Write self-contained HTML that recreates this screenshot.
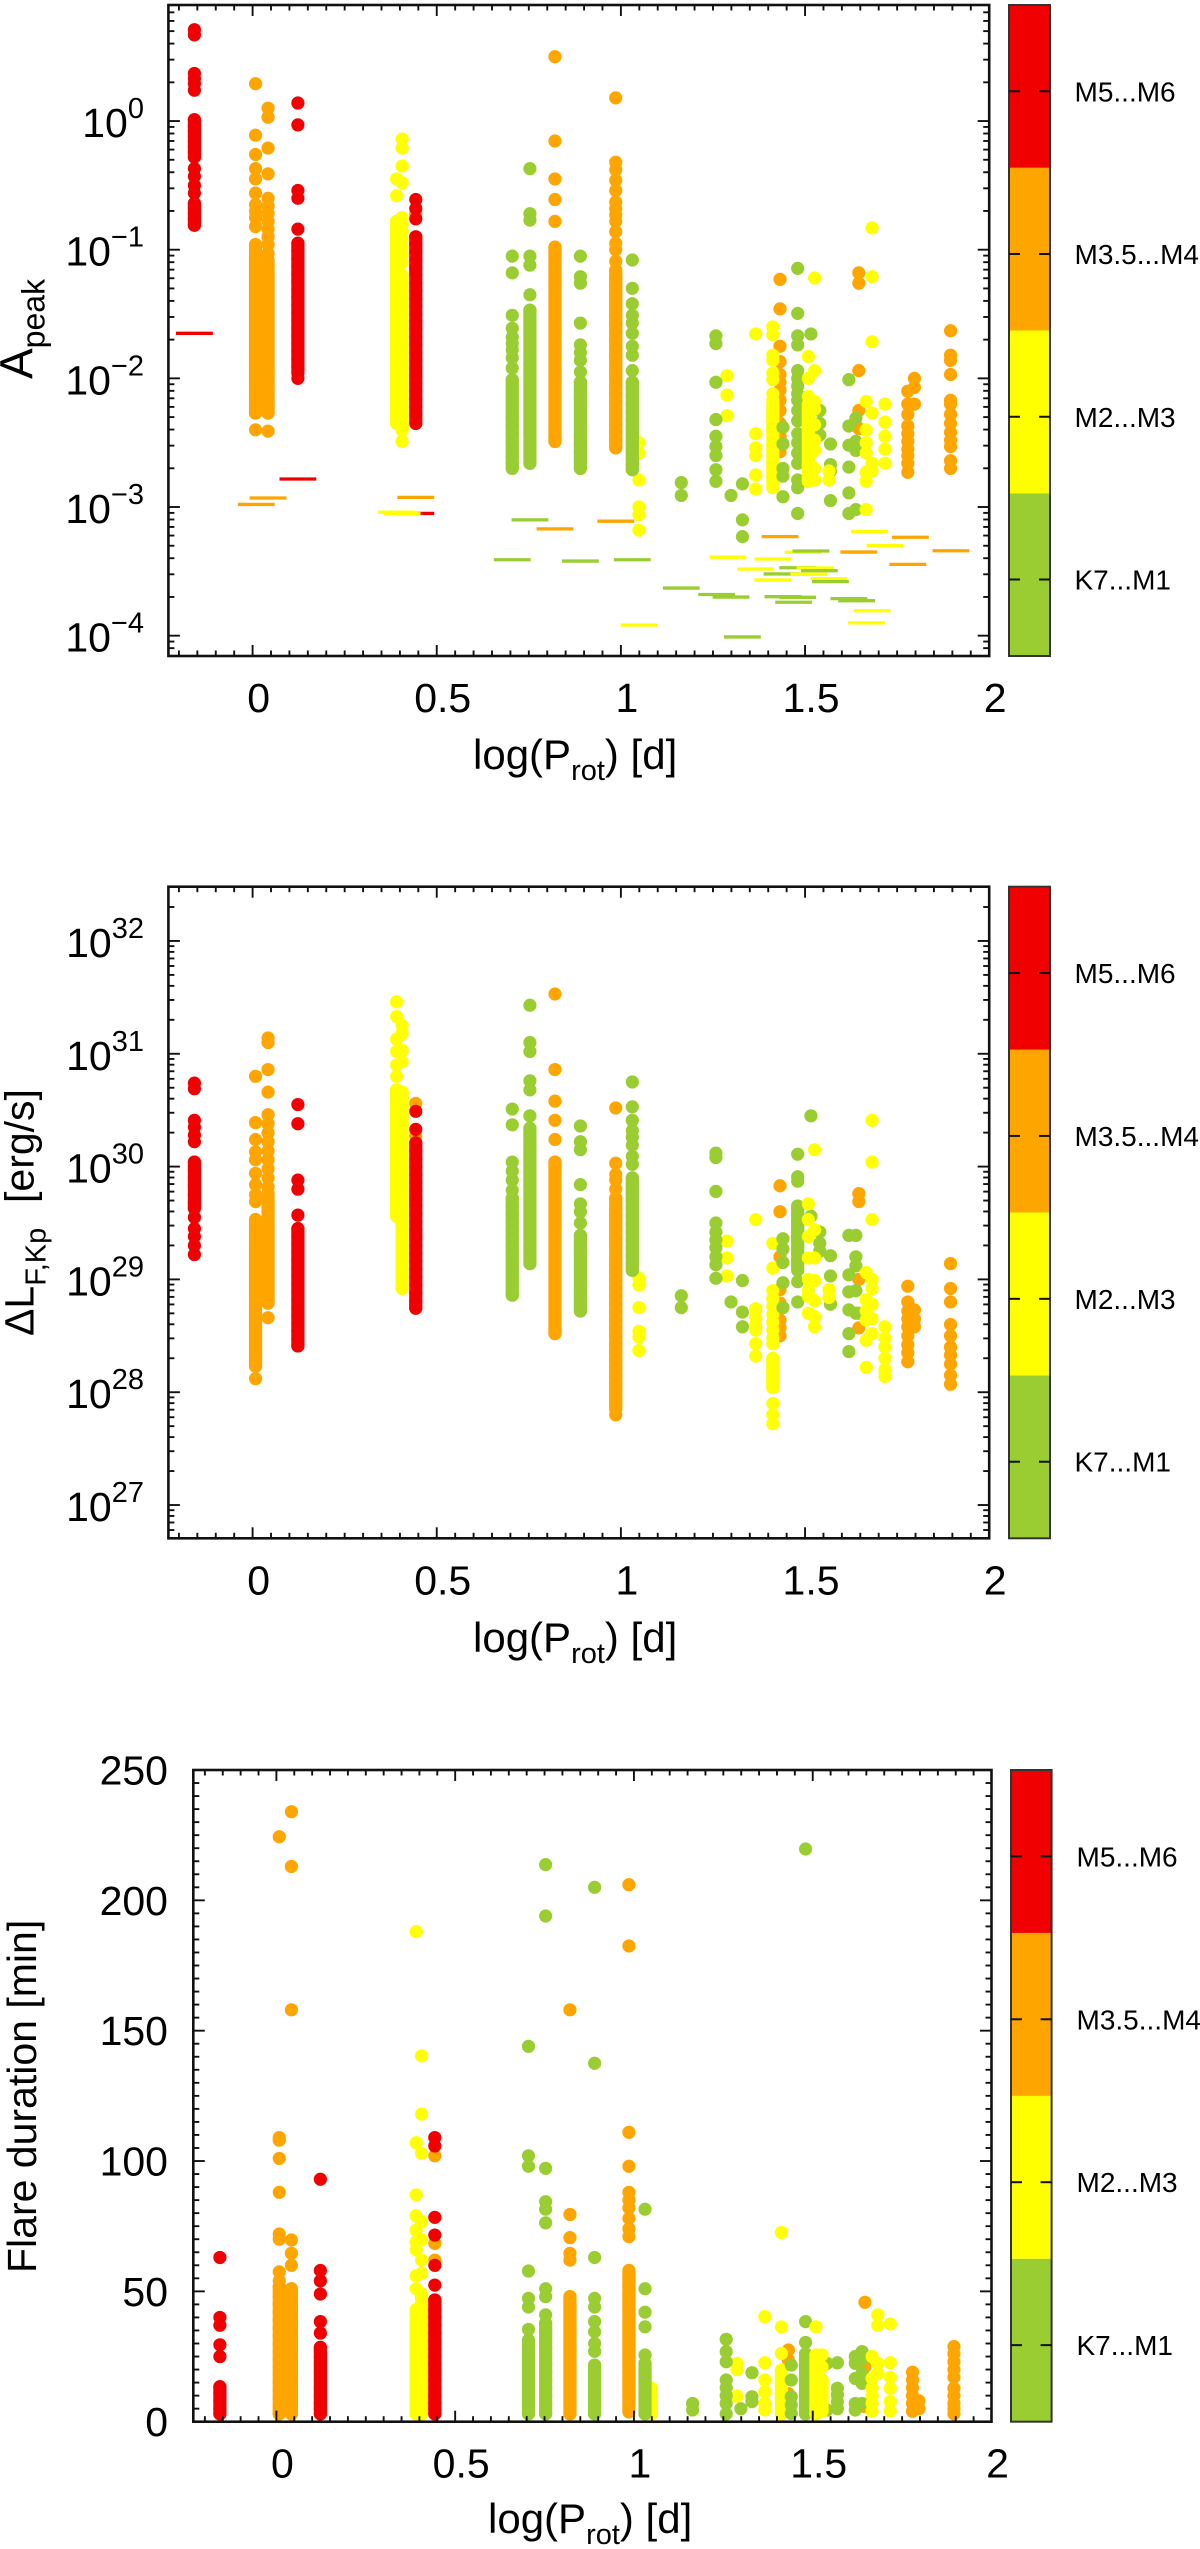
<!DOCTYPE html>
<html lang="en">
<head>
<meta charset="utf-8">
<title>Flare amplitude, luminosity and duration versus rotation period</title>
<style>
html,body{margin:0;padding:0;background:#fff;}
svg{display:block;}
text{font-family:"Liberation Sans",sans-serif;fill:#000;}
</style>
</head>
<body>
<svg id="figure" xmlns="http://www.w3.org/2000/svg" width="1200" height="2549" viewBox="0 0 1200 2549">
  <rect x="0" y="0" width="1200" height="2549" fill="#fff"/>
  <g id="panel-a"></g>
  <g id="panel-b"></g>
  <g id="panel-c"></g>

  <text transform="translate(32.5,379) rotate(-90)" font-size="46">A<tspan dy="12" font-size="32">peak</tspan></text>
  <text x="473" y="769" font-size="42">log(P<tspan dy="11" font-size="29">rot</tspan><tspan dy="-11">) [d]</tspan></text>

  <text transform="translate(33.7,1336) rotate(-90)" font-size="41">ΔL<tspan dy="12" font-size="29">F,Kp</tspan><tspan dy="-12" x="133">[erg/s]</tspan></text>
  <text x="473" y="1652" font-size="42">log(P<tspan dy="11" font-size="29">rot</tspan><tspan dy="-11">) [d]</tspan></text>

  <text transform="translate(36,2273) rotate(-90)" font-size="41">Flare duration [min]</text>
  <text x="488" y="2533" font-size="42">log(P<tspan dy="11" font-size="29">rot</tspan><tspan dy="-11">) [d]</tspan></text>
</svg>

<script>
// ---- categories ----
const classNames = ['K7...M1', 'M2...M3', 'M3.5...M4', 'M5...M6'];
const classColors = ['#9acd32', '#ffff00', '#ffa500', '#f00000'];

// ---- tick labels ----
const xTickValues = [0, 0.5, 1, 1.5, 2];
const xTickLabels = ['0', '0.5', '1', '1.5', '2'];
const peakDecades = [0, -1, -2, -3, -4];
const lumDecades = [32, 31, 30, 29, 28, 27];
const durationTicks = [0, 50, 100, 150, 200, 250];

// ---- per-star rotation period (log10 d) and spectral class index, in drawing order ----
const starLogP = [
  0.008, 0.042, 0.443, 0.821, 0.986, 1.432, 1.646, 1.779, 1.797, 1.895,
  1.049, 1.288, 1.366, 1.4125,
  1.031, 1.164, 1.258, 1.299, 1.330, 1.440, 1.480, 1.540, 1.569, 1.619, 1.638, 1.516,
  0.391, 0.406, 1.509, 1.526, 1.565, 1.666, 1.682, 1.717,
  0.705, 0.753, 0.890,
  -0.158, 0.123, 0.443
];
const starClass = [
  2, 2, 2, 2, 2, 2, 2, 2, 2, 2,
  1, 1, 1, 1,
  0, 0, 0, 0, 0, 0, 0, 0, 0, 0, 0, 0,
  1, 1, 1, 1, 1, 1, 1, 1,
  0, 0, 0,
  3, 3, 3
];

// ---- series: log10(A_peak) of each flare, per star ----
const logPeak = [
  [.29,-.11,-.26,-.37,-.45,-.56,-.65,-.7,-.75,-.82,-.96,-1.01,-1.08,-1.13,-1.2,-1.26,-1.31,-1.38,-1.43,-1.5,-1.56,-1.61,-1.68,-1.73,-1.8,-1.86,-1.91,-1.98,-2.03,-2.1,-2.15,-2.21,-2.27,-2.4],
  [.1,.03,-.21,-.41,-.6,-.66,-.72,-.78,-.84,-.9,-.96,-1.03,-1.08,-1.14,-1.2,-1.26,-1.32,-1.38,-1.44,-1.5,-1.56,-1.62,-1.68,-1.74,-1.8,-1.86,-1.92,-1.98,-2.04,-2.1,-2.16,-2.22,-2.27,-2.41],
  [-.72,-1.0,-1.3,-1.6,-2.0],
  [.5,-.155,-.45,-.61,-.78,-.98,-1.03,-1.1,-1.15,-1.22,-1.27,-1.33,-1.39,-1.45,-1.51,-1.57,-1.63,-1.69,-1.75,-1.81,-1.87,-1.93,-1.99,-2.05,-2.11,-2.17,-2.23,-2.29,-2.35,-2.41,-2.45,-2.49],
  [.18,-.32,-.38,-.46,-.54,-.63,-.68,-.73,-.78,-.86,-.95,-1.0,-1.09,-1.16,-1.22,-1.28,-1.34,-1.4,-1.46,-1.52,-1.58,-1.64,-1.7,-1.76,-1.82,-1.88,-1.94,-2.0,-2.06,-2.12,-2.18,-2.24,-2.3,-2.36,-2.42,-2.48,-2.54],
  [-1.23,-1.46,-1.75,-1.87,-1.97,-2.03,-2.09,-2.17,-2.25,-2.35,-2.45,-2.57],
  [-1.18,-1.26,-1.94,-2.25,-2.39],
  [-2.1,-2.2,-2.28,-2.37,-2.43,-2.49,-2.55,-2.6,-2.66,-2.73],
  [-2.0,-2.07,-2.2],
  [-1.63,-1.82,-1.86,-1.97,-2.17,-2.2,-2.28,-2.35,-2.42,-2.48,-2.53,-2.64,-2.7],
  [-2.5,-2.58,-2.79,-3.0,-3.06,-3.18],
  [-1.98,-2.13,-2.29],
  [-1.655,-2.43,-2.54,-2.6,-2.75,-2.86],
  [-1.6,-1.66,-1.82,-1.86,-1.96,-2.01,-2.12,-2.17,-2.23,-2.29,-2.35,-2.41,-2.47,-2.53,-2.59,-2.65,-2.71,-2.77,-2.85],
  [-1.08,-1.3,-1.42,-1.51,-1.57,-1.65,-1.75,-1.82,-1.94,-2.03,-2.08,-2.14,-2.2,-2.26,-2.32,-2.38,-2.44,-2.5,-2.56,-2.62,-2.67,-2.71],
  [-2.81,-2.91],
  [-1.67,-1.73,-2.03,-2.32,-2.45,-2.53,-2.6,-2.71,-2.8],
  [-2.91],
  [-2.82,-3.1,-3.23],
  [-2.38,-2.51,-2.7,-2.76,-2.92],
  [-1.145,-1.495,-1.67,-1.74,-1.94,-2.0,-2.06,-2.12,-2.17,-2.25,-2.33,-2.43,-2.5,-2.58,-2.66,-2.79,-2.85,-3.05],
  [-2.25,-2.35,-2.44],
  [-2.51,-2.67,-2.72,-2.95],
  [-2.01,-2.37,-2.52,-2.69,-2.89,-3.05],
  [-2.31,-2.49,-2.56,-3.02],
  [-1.655],
  [-.45,-.58,-.78,-.83,-.88,-.94,-1.0,-1.05,-1.1,-1.16,-1.22,-1.28,-1.34,-1.4,-1.46,-1.52,-1.58,-1.64,-1.7,-1.76,-1.82,-1.88,-1.94,-2.0,-2.06,-2.12,-2.18,-2.24,-2.3,-2.35],
  [-.14,-.21,-.35,-.48,-.75,-.8,-.86,-.92,-.98,-1.04,-1.1,-1.2,-1.26,-1.32,-1.38,-1.44,-1.5,-1.56,-1.62,-1.68,-1.74,-1.8,-1.86,-1.92,-1.98,-2.04,-2.1,-2.16,-2.22,-2.28,-2.34,-2.4,-2.49],
  [-1.83,-2.0,-2.14,-2.2,-2.26,-2.32,-2.38,-2.44,-2.5,-2.56,-2.62,-2.68,-2.74,-2.8],
  [-1.22,-1.94,-2.18,-2.24,-2.36,-2.48,-2.56,-2.7,-2.79],
  [-2.72,-2.79],
  [-2.18,-2.4,-2.5,-2.58,-2.73,-2.8,-3.02],
  [-.83,-1.21,-1.715,-2.27,-2.66,-2.72],
  [-2.2,-2.34,-2.45,-2.55,-2.66],
  [-1.05,-1.18,-1.51,-1.61,-1.68,-1.73,-1.78,-1.84,-1.92,-2.01,-2.07,-2.13,-2.19,-2.25,-2.31,-2.37,-2.43,-2.49,-2.55,-2.61,-2.66,-2.7],
  [-.37,-.72,-.77,-1.05,-1.12,-1.35,-1.47,-1.53,-1.59,-1.65,-1.71,-1.77,-1.83,-1.89,-1.95,-2.01,-2.07,-2.13,-2.19,-2.25,-2.31,-2.37,-2.43,-2.49,-2.55,-2.61,-2.66],
  [-1.05,-1.21,-1.26,-1.57,-1.74,-1.8,-1.86,-1.95,-2.03,-2.09,-2.15,-2.21,-2.27,-2.33,-2.39,-2.45,-2.51,-2.57,-2.63,-2.7],
  [.71,.67,.37,.33,.29,.24,.01,-.04,-.08,-.12,-.16,-.2,-.24,-.28,-.37,-.43,-.5,-.56,-.64,-.68,-.72,-.76,-.81],
  [.14,-.03,-.54,-.6,-.84,-.95,-1.01,-1.07,-1.13,-1.19,-1.25,-1.31,-1.37,-1.43,-1.49,-1.55,-1.61,-1.67,-1.73,-1.79,-1.85,-1.91,-1.96,-2.0],
  [-.61,-.68,-.76,-.9,-.96,-1.02,-1.08,-1.14,-1.2,-1.26,-1.32,-1.38,-1.44,-1.5,-1.56,-1.62,-1.68,-1.74,-1.8,-1.86,-1.92,-1.98,-2.04,-2.1,-2.16,-2.22,-2.28,-2.35]
];

// ---- series: fully overplotted stretches of a star's column, as [star index, high, low] ----
const peakRuns = [[0,-.96,-2.27],[1,-1.08,-2.27],[3,-.98,-2.49],[4,-1.16,-2.54],[13,-2.2,-2.82],[14,-2.03,-2.71],[28,-2.2,-2.8],[26,-.78,-2.35],[27,-1.2,-2.4],[34,-2.01,-2.7],[35,-1.47,-2.66],[36,-2.03,-2.7],[37,.01,-.28],[37,-.64,-.81],[38,-.95,-1.95],[39,-.9,-2.35]];
const lumRuns = [[0,29.53,28.23],[1,29.76,28.79],[3,30.04,28.52],[4,29.72,27.85],[13,28.3,28.04],[14,29.9,29.08],[20,29.65,29.1],[26,30.68,29.56],[27,30.66,28.92],[34,29.72,28.86],[35,30.34,29.14],[36,29.39,28.72],[37,30.04,29.63],[38,29.45,28.41],[39,30.21,28.745]];
const durationRuns = [[0,51.8,3],[1,51,3],[3,48,3],[4,58,3.8],[13,19.8,3],[14,22.4,3],[20,26,3],[26,43,3],[27,49,3],[28,25.6,3],[29,16,4],[34,31.3,3],[35,37.7,3],[36,21.7,3],[37,13.4,3],[38,28.5,3],[39,46.7,3]];

// ---- series: upper-limit dashes in the amplitude panel ----
const dashLogP = [-0.158,0.123,0.042,0.010,0.443,0.443,0.391,0.406,0.753,0.821,0.705,0.890,0.986,1.031,1.049,1.164,1.26,1.299,1.29,1.33,1.366,1.432,1.4125,1.4125,1.4375,1.44,1.48,1.48,1.469,1.495,1.516,1.51,1.527,1.539,1.565,1.569,1.646,1.619,1.64,1.682,1.667,1.675,1.717,1.786,1.779,1.896];
const dashLogA = [-1.65,-2.782,-2.93,-2.98,-2.925,-3.05,-3.04,-3.05,-3.1,-3.17,-3.41,-3.42,-3.11,-3.41,-3.917,-3.63,-3.68,-3.70,-3.39,-4.01,-3.482,-3.23,-3.404,-3.567,-3.52,-3.697,-3.702,-3.472,-3.74,-3.352,-3.342,-3.523,-3.474,-3.495,-3.557,-3.58,-3.35,-3.712,-3.728,-3.806,-3.90,-3.19,-3.30,-3.235,-3.446,-3.34];
const dashClass = [3,3,2,2,2,3,1,1,0,2,0,0,2,0,1,0,0,0,1,0,1,2,1,1,0,0,0,0,0,1,0,1,1,0,1,0,2,0,0,1,1,1,1,2,2,2];

// ---- series: log10(Delta L_F,Kp) of each flare, per star ----
const logLum = [
  [30.8,30.39,30.24,30.13,30.06,29.94,29.84,29.75,29.69,29.53,29.46,29.39,29.32,29.25,29.18,29.11,29.04,28.97,28.9,28.83,28.76,28.69,28.62,28.55,28.48,28.41,28.34,28.27,28.23,28.12],
  [31.14,31.1,30.86,30.66,30.46,30.38,30.3,30.22,30.14,30.06,29.98,29.9,29.82,29.76,29.69,29.62,29.55,29.48,29.41,29.34,29.27,29.2,29.13,29.06,28.99,28.92,28.85,28.79,28.66],
  [30.56,30.27,30.0,29.7,29.4],
  [31.53,30.86,30.58,30.41,30.24,30.04,29.97,29.9,29.83,29.76,29.69,29.62,29.55,29.48,29.41,29.34,29.27,29.2,29.13,29.06,28.99,28.92,28.85,28.78,28.71,28.64,28.57,28.52],
  [30.52,30.03,29.93,29.88,29.8,29.72,29.63,29.57,29.5,29.43,29.36,29.3,29.2,29.13,29.06,28.99,28.92,28.85,28.78,28.71,28.64,28.57,28.5,28.43,28.36,28.29,28.22,28.15,28.08,28.01,27.94,27.88,27.8],
  [29.83,29.6,29.2,28.91,28.79,28.64,28.57,28.5],
  [29.76,29.69,29.0,28.7,28.57],
  [28.94,28.8,28.72,28.65,28.58,28.5,28.42,28.35,28.27],
  [28.73,28.65,28.58],
  [29.14,28.92,28.8,28.6,28.5,28.4,28.33,28.25,28.15,28.07],
  [29.01,28.95,28.75,28.54,28.49,28.37],
  [29.34,29.19,29.03],
  [29.53,28.74,28.66,28.59,28.55,28.43,28.32],
  [29.32,29.1,28.9,28.83,28.76,28.69,28.62,28.55,28.48,28.43,28.3,28.25,28.17,28.1,28.04,27.9,27.8,27.72],
  [30.75,30.53,30.41,30.32,30.26,30.19,30.09,30.02,29.9,29.84,29.77,29.7,29.63,29.56,29.49,29.42,29.35,29.28,29.21,29.14,29.08],
  [28.855,28.75],
  [30.12,30.08,29.78,29.5,29.42,29.35,29.28,29.2,29.13,29.01],
  [28.8],
  [28.99,28.71,28.58],
  [29.36,29.27,29.15,28.97,28.75],
  [30.11,29.91,29.87,29.65,29.58,29.51,29.44,29.37,29.3,29.23,29.16,29.08,28.98,28.8],
  [29.42,29.32,29.25],
  [29.21,29.03,28.78],
  [29.39,29.04,28.89,28.73,28.52,28.36],
  [29.39,29.2,29.12,28.9,28.7],
  [30.45,29.56],
  [31.46,31.33,31.13,31.02,30.9,30.8,30.68,30.61,30.54,30.47,30.4,30.33,30.26,30.19,30.12,30.05,29.98,29.91,29.84,29.77,29.7,29.63,29.56],
  [31.25,31.18,31.03,30.93,30.66,30.6,30.53,30.46,30.39,30.32,30.25,30.18,30.11,30.04,29.97,29.9,29.83,29.76,29.69,29.62,29.55,29.48,29.41,29.34,29.27,29.2,29.13,29.06,28.99,28.92],
  [29.67,29.53,29.38,29.19,29.0,28.9,28.85,28.7],
  [30.15,29.44,29.19,28.99,28.81,28.67,28.58],
  [28.91,28.84],
  [29.06,28.82,28.72,28.64,28.46,28.22],
  [30.41,30.04,29.53,29.0,28.92,28.78,28.65,28.52],
  [28.58,28.48,28.4,28.3,28.2,28.14],
  [30.51,30.37,30.04,29.96,29.88,29.79,29.72,29.65,29.58,29.51,29.44,29.37,29.3,29.23,29.16,29.09,29.02,28.95,28.86],
  [31.43,31.1,31.02,30.76,30.68,30.45,30.34,30.27,30.2,30.13,30.06,29.99,29.92,29.85,29.78,29.71,29.64,29.57,29.5,29.43,29.36,29.29,29.22,29.14],
  [30.36,30.22,30.15,29.84,29.67,29.6,29.5,29.39,29.32,29.25,29.18,29.11,29.04,28.97,28.9,28.83,28.76,28.72],
  [30.74,30.69,30.41,30.35,30.28,30.22,30.04,29.97,29.9,29.83,29.75,29.68,29.63,29.55,29.45,29.38,29.3,29.22],
  [30.55,30.38,29.88,29.8,29.57,29.45,29.38,29.31,29.24,29.17,29.1,29.03,28.96,28.89,28.82,28.75,28.68,28.61,28.54,28.47,28.41],
  [30.49,30.33,30.21,30.14,30.07,30.0,29.93,29.86,29.79,29.72,29.65,29.58,29.51,29.44,29.37,29.3,29.23,29.16,29.09,29.02,28.95,28.88,28.81,28.745]
];

// ---- series: flare duration in minutes, per star ----
const durationMin = [
  [224.4,109,108,101,88,72,70,57.5,54,51.8,48,45,42,39,36,33,30,27,24,21,18,15,12,9,6,3],
  [234,213,158,69.7,64.6,60,51,48,45,42,39,36,33,30,27,24,21,18,15,12,9,6,3],
  [102,68.4,62,40,30,20],
  [158,79.5,70.6,64.6,62,48,45,42,39,36,33,30,27,24,21,18,15,12,9,6,3],
  [206,182.5,111,98,88,85,82,78,74,71,58,55,52,49,46,43,40,37,34,31,28,25,22,19,16,13,10,7,3.8],
  [27.5,23.6,10.8],
  [45.8,21,5.8],
  [19,16,13,10,7,4],
  [8,5],
  [28.8,26,23,20,17,12.8,10,7,5,3],
  [12.8,10,7,5,3],
  [22.4,20,9.8],
  [40.3,22.6,16,11.5,7,4.5],
  [72.6,36.4,26.2,19.8,17,14,11,8,5,3],
  [81.5,51,42,36.4,25.6,22.4,20,17,14,11,8,5,3],
  [7,4.5],
  [31.6,26.9,23,16,13,10,7,3],
  [5],
  [18.8,9.6,7.7],
  [21.7,16,9.6,6.4,3.2],
  [219.7,38.4,30.4,26,23,20,17,14,11,8,5,3],
  [22.4,4.5],
  [22.6,12.8,10.3,7.6,5],
  [25,22.4,16.6,7,4.5],
  [26.9,23.7,18.5,14.7,7],
  [],
  [188,107,87,79,73.5,69,66,56,51,43,40,37,34,31,28,25,22,19,16,13,10,7,5,3],
  [140.3,118,103,76.7,69.7,62,57,49,46,43,40,37,34,31,28,25,22,19,16,13,10,7,5,3],
  [36.4,25.6,23,20,17,14,11,8,5,3],
  [25.6,21,16,13,10,7,4],
  [],
  [25,16.6,13,10,7,4],
  [41,37,22.4,18.5],
  [37.5,22.6,17,12.8,7.7,4],
  [144,102,98,57.8,47.3,44,35.4,31.3,28,25,22,19,16,13,10,7,3],
  [213.7,194,97.2,84.4,81.5,76.3,51,48,41,37.7,34,31,28,25,22,19,16,13,10,7,3],
  [205,137.5,63,47.3,44,38.4,34.5,30,27,21.7,18,15,12,9,6,3],
  [63,40,37,29.5,25,13.4,11,8,5,3],
  [93,58,54,49,38.4,34,28.5,25,22,19,16,13,10,7,5,3],
  [109,105.8,78.4,71.6,60,52.4,46.7,43,40,37,34,31,28,25,22,19,16,13,10,7,5,3]
];

// ---- layout of each panel (page geometry, not data) ----
const NS = 'http://www.w3.org/2000/svg';
const INK = '#111';
const DOT_R = 6.6;

function make(tag, attrs, name, parent) {
  const e = document.createElementNS(NS, tag);
  for (const k in attrs) e.setAttribute(k, attrs[k]);
  
  
  parent.appendChild(e);
  return e;
}

function linearScale(d0, d1, r0, r1) {
  return function (v) { return r0 + (v - d0) / (d1 - d0) * (r1 - r0); };
}

function drawFrame(g, box) {
  make('rect', {x: box.left, y: box.top, width: box.right - box.left, height: box.bottom - box.top,
    fill: 'none', stroke: INK, 'stroke-width': 2.6}, 'plot-frame', g);
}

function vTick(g, x, box, len, name) {
  make('line', {x1: x, x2: x, y1: box.bottom, y2: box.bottom - len, stroke: INK, 'stroke-width': 1.9}, name, g);
  make('line', {x1: x, x2: x, y1: box.top, y2: box.top + len, stroke: INK, 'stroke-width': 1.9}, name + '-top', g);
}

function hTick(g, y, box, len, name) {
  make('line', {x1: box.left, x2: box.left + len, y1: y, y2: y, stroke: INK, 'stroke-width': 1.9}, name, g);
  make('line', {x1: box.right, x2: box.right - len, y1: y, y2: y, stroke: INK, 'stroke-width': 1.9}, name + '-right', g);
}

function drawXAxis(g, box, xs) {
  xTickValues.forEach(function (v, i) {
    vTick(g, xs(v), box, 11, 'x-major-tick');
    const t = make('text', {x: xs(v) + 6, y: box.bottom + 56, 'font-size': 41, 'text-anchor': 'middle'}, 'x-tick-label', g);
    t.textContent = xTickLabels[i];
  });
  for (let k = -4; k <= 39; k++) {
    if (k % 10 === 0) continue;
    vTick(g, xs(k * 0.05), box, 5.5, 'x-minor-tick');
  }
}

function drawLogYAxis(g, box, ys, decades) {
  decades.forEach(function (d) {
    const y = ys(d);
    hTick(g, y, box, 11.5, 'y-major-tick');
    const t = make('text', {x: 144, y: y + 16, 'font-size': 41, 'text-anchor': 'end'}, 'y-tick-label', g);
    const base = make('tspan', {}, 'y-tick-base', t);
    base.textContent = '10';
    const exp = make('tspan', {dy: -19, 'font-size': 29}, 'y-tick-exponent', t);
    exp.textContent = String(d).replace('-', '\u2212');
  });
  const low = Math.min.apply(null, decades) - 1;
  const high = Math.max.apply(null, decades) + 1;
  for (let d = low; d <= high; d++) {
    for (let m = 2; m <= 9; m++) {
      const y = ys(d + Math.log10(m));
      if (y > box.top + 1 && y < box.bottom - 1) hTick(g, y, box, 6, 'y-minor-tick');
    }
  }
}

function drawLinearYAxis(g, box, ys, ticks) {
  ticks.forEach(function (v) {
    const y = ys(v);
    if (v !== 0 && v !== 250) hTick(g, y, box, 11.5, 'y-major-tick');
    const t = make('text', {x: 168, y: y + 14.5, 'font-size': 41, 'text-anchor': 'end'}, 'y-tick-label', g);
    t.textContent = String(v);
  });
  for (let v = 5; v < 250; v += 5) {
    if (v % 50 === 0) continue;
    hTick(g, ys(v), box, 6, 'y-minor-tick');
  }
}

function drawColorbar(g, cb) {
  const cs = linearScale(0, classNames.length, cb.bottom, cb.top);
  classNames.forEach(function (n, i) {
    make('rect', {x: cb.left, y: cs(i + 1), width: cb.right - cb.left, height: cs(i) - cs(i + 1), fill: classColors[i]}, 'colorbar-band', g);
  });
  make('rect', {x: cb.left, y: cb.top, width: cb.right - cb.left, height: cb.bottom - cb.top,
    fill: 'none', stroke: '#333', 'stroke-width': 2}, 'colorbar-frame', g);
  classNames.forEach(function (n, i) {
    const y = cs(i + 0.47);
    make('line', {x1: cb.left, x2: cb.left + 11, y1: y, y2: y, stroke: INK, 'stroke-width': 2}, 'colorbar-tick', g);
    make('line', {x1: cb.right - 11, x2: cb.right, y1: y, y2: y, stroke: INK, 'stroke-width': 2}, 'colorbar-tick', g);
    const t = make('text', {x: cb.labelX, y: y + 10, 'font-size': 28}, 'colorbar-label', g);
    t.textContent = n;
  });
}

function drawDots(g, values, runs, xs, ys) {
  starLogP.forEach(function (p, i) {
    const color = classColors[starClass[i]];
    runs.forEach(function (run) {
      if (run[0] !== i) return;
      make('line', {x1: xs(p), x2: xs(p), y1: ys(run[1]), y2: ys(run[2]), stroke: color,
        'stroke-width': DOT_R * 2, 'stroke-linecap': 'round'}, 'overplotted-flare-run', g);
    });
    values[i].forEach(function (v) {
      make('circle', {cx: xs(p), cy: ys(v), r: DOT_R, fill: color}, 'flare-point', g);
    });
  });
}

function drawDashes(g, xs, ys) {
  dashLogP.forEach(function (p, i) {
    make('line', {x1: xs(p - 0.05), x2: xs(p + 0.05), y1: ys(dashLogA[i]), y2: ys(dashLogA[i]),
      stroke: classColors[dashClass[i]], 'stroke-width': 3.3}, 'upper-limit-dash', g);
  });
}

// ---- amplitude panel ----
(function () {
  const g = document.getElementById('panel-a');
  const box = {left: 168.4, right: 989.2, top: 5, bottom: 656};
  const xs = linearScale(-0.2286, 2, box.left, box.right);
  const ys = linearScale(-4.158, 0.902, box.bottom, box.top);
  drawDots(g, logPeak, peakRuns, xs, ys);
  drawDashes(g, xs, ys);
  drawXAxis(g, box, xs);
  drawLogYAxis(g, box, ys, peakDecades);
  drawFrame(g, box);
  drawColorbar(g, {left: 1009, right: 1050, top: 5, bottom: 656, labelX: 1074.5});
})();

// ---- luminosity panel ----
(function () {
  const g = document.getElementById('panel-b');
  const box = {left: 168.4, right: 989.2, top: 886.7, bottom: 1538.3};
  const xs = linearScale(-0.2286, 2, box.left, box.right);
  const ys = linearScale(26.705, 32.481, box.bottom, box.top);
  drawDots(g, logLum, lumRuns, xs, ys);
  drawXAxis(g, box, xs);
  drawLogYAxis(g, box, ys, lumDecades);
  drawFrame(g, box);
  drawColorbar(g, {left: 1009, right: 1050, top: 886.7, bottom: 1538.3, labelX: 1074.5});
})();

// ---- duration panel ----
(function () {
  const g = document.getElementById('panel-c');
  const box = {left: 193.3, right: 991.5, top: 1770, bottom: 2421.7};
  const xs = linearScale(-0.2324, 2, box.left, box.right);
  const ys = linearScale(0, 250, box.bottom, box.top);
  drawDots(g, durationMin, durationRuns, xs, ys);
  drawXAxis(g, box, xs);
  drawLinearYAxis(g, box, ys, durationTicks);
  drawFrame(g, box);
  drawColorbar(g, {left: 1011, right: 1051.6, top: 1770, bottom: 2421.7, labelX: 1076.5});
})();
</script>
</body>
</html>
